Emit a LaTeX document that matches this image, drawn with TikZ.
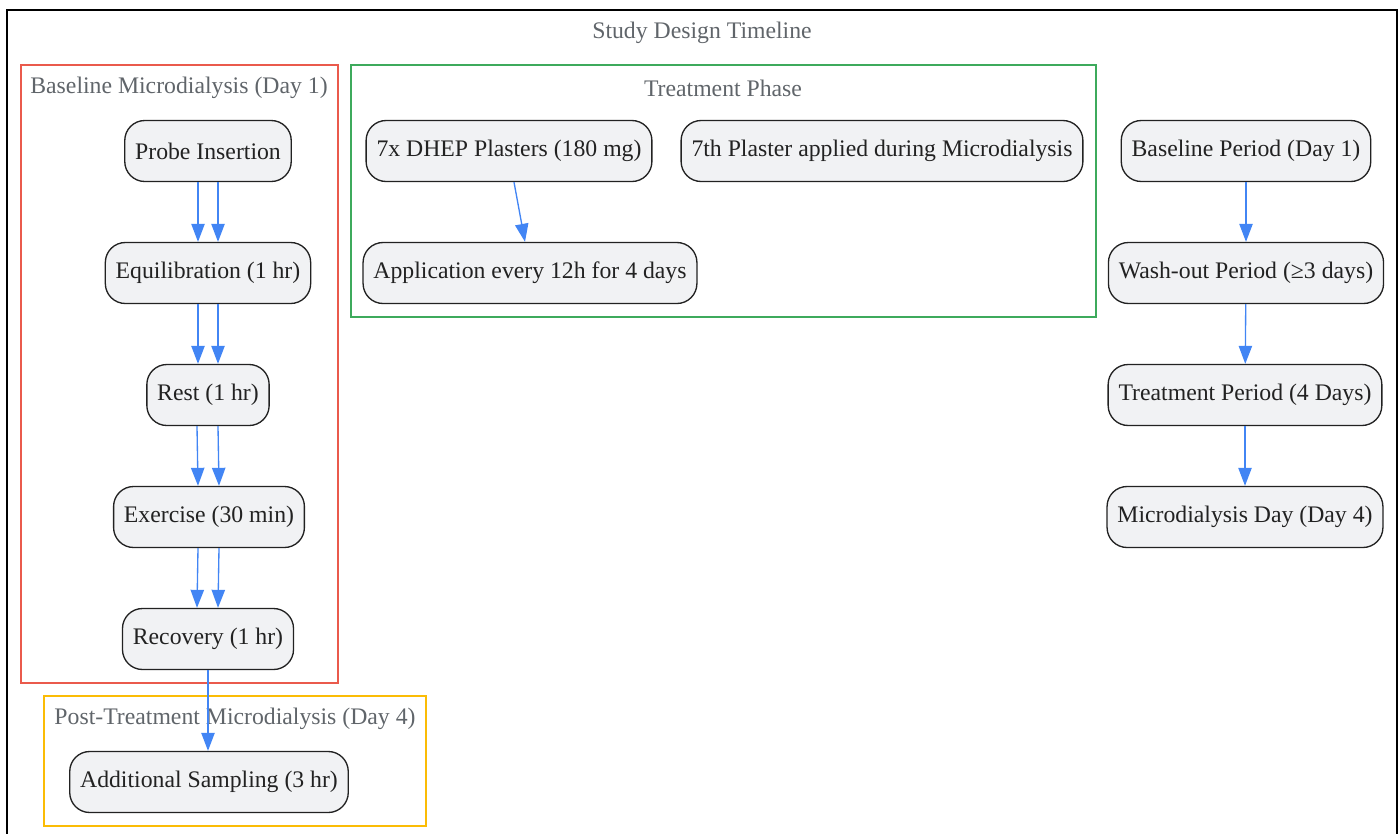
\documentclass[tikz,border=0pt]{standalone}
\usepackage{fontspec}
\setmainfont{Liberation Serif}
\usetikzlibrary{arrows.meta}

\definecolor{flowblue}{HTML}{4285F4}
\definecolor{nodefill}{HTML}{F1F2F4}
\definecolor{nodeedge}{HTML}{222222}
\definecolor{titlegray}{HTML}{60656A}
\definecolor{phasered}{HTML}{EA5A4C}
\definecolor{phasegreen}{HTML}{3DAA5C}
\definecolor{phaseyellow}{HTML}{FBBC05}

\tikzset{
	stepbox/.style={draw=nodeedge, line width=1pt, fill=nodefill, rounded corners=15pt,
		minimum height=45.75pt, inner xsep=7.8pt, text=nodeedge,
		font=\fontsize{17.8}{21}\selectfont},
	phasetitle/.style={text=titlegray, font=\fontsize{17.8}{21}\selectfont},
	phasebox/.style={line width=1pt},
	flow/.style={draw=flowblue, line width=1pt, -{Triangle[length=13.5pt, width=10pt]}}
}

\begin{document}
\begin{tikzpicture}[x=0.75pt, y=-0.75pt]
	\useasboundingbox (0, 0) rectangle (1400, 833);
	\draw [line width=1pt, black] (7, 10) rectangle (1397, 850);
	\node [phasetitle] (maintitle) at (702, 33) {Study Design Timeline};

	\draw [phasebox, phasered] (21, 65) rectangle (338, 683);
	\node [phasetitle] (basetitle) at (179, 88) {Baseline Microdialysis (Day 1)};

	\draw [phasebox, phasegreen] (351, 65) rectangle (1096, 317);
	\node [phasetitle] (treattitle) at (723, 88) {Treatment Phase};

	\draw [phasebox, phaseyellow] (44, 696) rectangle (426, 826);
	\node [phasetitle] (posttitle) at (235, 719) {Post-Treatment Microdialysis (Day 4)};

	\node [stepbox] (probe) at (208, 151) {Probe Insertion};
	\node [stepbox] (equil) at (208, 273) {Equilibration (1 hr)};
	\node [stepbox] (rest) at (208, 395) {Rest (1 hr)};
	\node [stepbox] (exercise) at (209, 517) {Exercise (30 min)};
	\node [stepbox] (recovery) at (208, 639) {Recovery (1 hr)};
	\node [stepbox] (sampling) at (209, 782) {Additional Sampling (3 hr)};

	\node [stepbox] (plasters) at (509, 151) {7x DHEP Plasters (180 mg)};
	\node [stepbox] (seventh) at (882, 151) {7th Plaster applied during Microdialysis};
	\node [stepbox] (application) at (530, 273) {Application every 12h for 4 days};

	\node [stepbox] (baseline) at (1246, 151) {Baseline Period (Day 1)};
	\node [stepbox] (washout) at (1246, 273) {Wash-out Period (≥3 days)};
	\node [stepbox] (treatment) at (1245, 395) {Treatment Period (4 Days)};
	\node [stepbox] (mdday) at (1245, 517) {Microdialysis Day (Day 4)};

	\draw [flow] ([xshift=-7.5pt]probe.south) -- ([xshift=-7.5pt]equil.north);
	\draw [flow] ([xshift=7.5pt]probe.south) -- ([xshift=7.5pt]equil.north);
	\draw [flow] ([xshift=-7.5pt]equil.south) -- ([xshift=-7.5pt]rest.north);
	\draw [flow] ([xshift=7.5pt]equil.south) -- ([xshift=7.5pt]rest.north);
	\draw [flow] ([xshift=-8.25pt]rest.south) -- ([xshift=-8.25pt]exercise.north);
	\draw [flow] ([xshift=7.5pt]rest.south) -- ([xshift=7.5pt]exercise.north);
	\draw [flow] ([xshift=-8.25pt]exercise.south) -- ([xshift=-8.25pt]recovery.north);
	\draw [flow] ([xshift=7.5pt]exercise.south) -- ([xshift=7.5pt]recovery.north);
	\draw [flow] (recovery.south) -- (recovery.south |- sampling.north);

	\draw [flow] ([xshift=3.75pt]plasters.south) -- ([xshift=-3.75pt]application.north);

	\draw [flow] (baseline) -- (washout);
	\draw [flow] (washout) -- (treatment);
	\draw [flow] (treatment) -- (mdday);
\end{tikzpicture}
\end{document}
